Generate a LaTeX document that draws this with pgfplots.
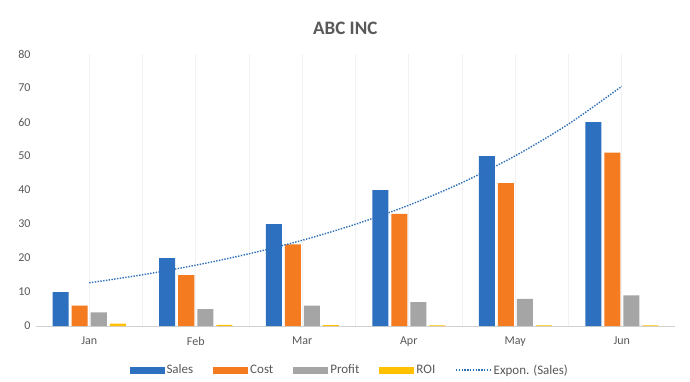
\documentclass[border=0pt]{standalone}
\usepackage{pgfplots}
\pgfplotsset{compat=1.18}
\usepackage{fontspec}
\setmainfont{Carlito}
\definecolor{csales}{HTML}{2E70C0}
\definecolor{ccost}{HTML}{F47B20}
\definecolor{cprofit}{HTML}{A5A5A5}
\definecolor{croi}{HTML}{FFC000}
\definecolor{ctrend}{HTML}{2E70B8}
\definecolor{txtgray}{HTML}{595959}
\begin{document}
\begin{tikzpicture}
\path[use as bounding box, fill=white] (-36pt,-55pt) rectangle (654pt,326pt);
\begin{axis}[
  scale only axis, width=639pt, height=272pt,
  xmin=-0.5, xmax=5.5, ymin=0, ymax=80,
  xtick={0,...,5}, xticklabels={Jan,Feb,Mar,Apr,May,Jun},
  ytick={0,10,...,80},
  minor x tick num=1,
  xmajorgrids, xminorgrids,
  grid style={draw=black!5, line width=0.6pt},
  minor grid style={draw=black!5, line width=0.6pt},
  axis x line*=bottom, axis y line*=left,
  y axis line style={draw=none},
  x axis line style={draw=black!18, line width=0.8pt},
  tick style={draw=none},
  /pgf/number format/assume math mode=true,
  tick label style={font=\fontsize{12}{14}\selectfont, text=txtgray},
  xticklabel style={yshift=-3pt},
  yticklabel style={xshift=-2pt},
  title={ABC INC},
  title style={at={(0.484,1)}, anchor=center, yshift=20pt,
    font=\fontsize{19}{22}\selectfont\bfseries, text=txtgray},
  ybar=3pt, bar width=16pt,
  legend style={at={(0.491,0)}, anchor=center, yshift=-44pt, draw=none,
    font=\fontsize{13}{15}\selectfont, text=txtgray, legend columns=-1,
    /tikz/every even column/.append style={column sep=18pt}},
  legend cell align=left,
]
\addplot[fill=csales, draw=none,
  legend image code/.code={\fill[csales] (0pt,-3.5pt) rectangle (35pt,3.5pt);}]
  coordinates {(0,10) (1,20) (2,30) (3,40) (4,50) (5,60)};
\addlegendentry{Sales}
\addplot[fill=ccost, draw=none,
  legend image code/.code={\fill[ccost] (0pt,-3.5pt) rectangle (35pt,3.5pt);}]
  coordinates {(0,6) (1,15) (2,24) (3,33) (4,42) (5,51)};
\addlegendentry{Cost}
\addplot[fill=cprofit, draw=none,
  legend image code/.code={\fill[cprofit] (0pt,-3.5pt) rectangle (35pt,3.5pt);}]
  coordinates {(0,4) (1,5) (2,6) (3,7) (4,8) (5,9)};
\addlegendentry{Profit}
\addplot[fill=croi, draw=none,
  legend image code/.code={\fill[croi] (0pt,-3.5pt) rectangle (35pt,3.5pt);}]
  coordinates {(0,0.67) (1,0.33) (2,0.25) (3,0.21) (4,0.19) (5,0.18)};
\addlegendentry{ROI}
\addplot[sharp plot, smooth, ctrend, line width=1.4pt, dash pattern=on 1.4pt off 1.4pt,
  legend image code/.code={\draw[ctrend, line width=1.4pt, dash pattern=on 1.4pt off 1.4pt] (0pt,0pt) -- (35pt,0pt);}]
  coordinates {(0,12.70) (0.5,15.07) (1,17.89) (1.5,21.24) (2,25.21) (2.5,29.93)
    (3,35.52) (3.5,42.17) (4,50.05) (4.5,59.40) (5,70.50)};
\addlegendentry{Expon. (Sales)}
\end{axis}
\end{tikzpicture}
\end{document}
